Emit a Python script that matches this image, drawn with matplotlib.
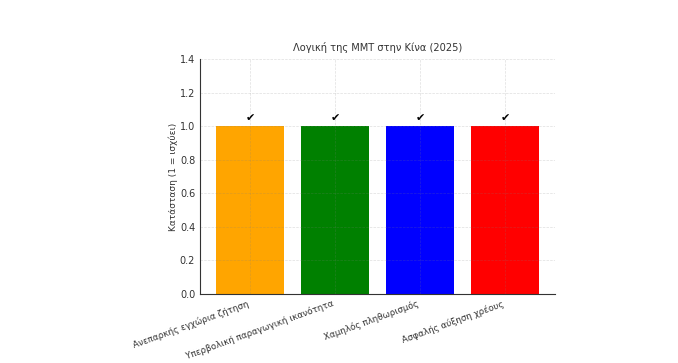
import numpy as np
import matplotlib.pyplot as plt

labels = ["Ανεπαρκής εγχώρια ζήτηση", "Υπερβολική παραγωγική ικανότητα",
          "Χαμηλός πληθωρισμός", "Ασφαλής αύξηση χρέους"]
values = [1, 1, 1, 1]
colors = ["orange", "green", "blue", "red"]
marks = ["✔", "✔", "✔", "✔"]

plt.rcParams['font.size'] = 7

fig = plt.figure(figsize=(6.78, 3.63), dpi=100)
ax = fig.add_axes([0.295, 0.19, 0.524, 0.647])

x = np.arange(len(labels))
ax.bar(x, values, color=colors, width=0.8)
for xi, v, m in zip(x, values, marks):
    ax.text(xi, v + 0.05, m, ha='center', va='center', fontsize=8)

ax.set_ylim(0, 1.4)
ax.set_xticks(x)
ax.set_xticklabels(labels, rotation=20, ha='right', color='#333333', fontsize=6.3)
ax.set_ylabel("Κατάσταση (1 = ισχύει)", color='#333333', fontsize=6.5, labelpad=1)
ax.set_title("Λογική της ΜΜΤ στην Κίνα (2025)", color='#333333', fontsize=7.1)
ax.grid(True, linestyle='--', color='gray', alpha=0.25, linewidth=0.5)
for s in ['top', 'right']:
    ax.spines[s].set_visible(False)
ax.spines['left'].set_color('#333333')
ax.spines['bottom'].set_color('#333333')
ax.tick_params(colors='#333333', length=0)

fig.savefig("out.png", dpi=100)
